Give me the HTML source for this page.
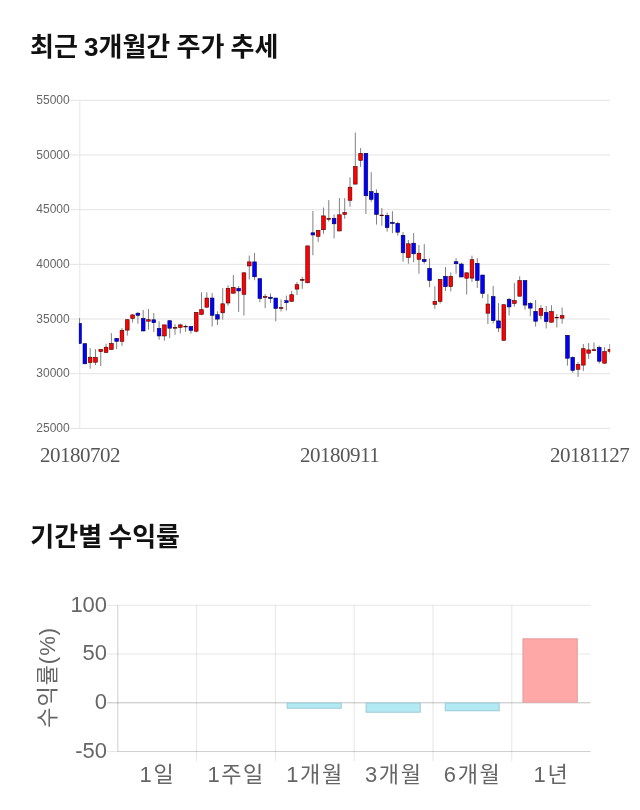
<!DOCTYPE html>
<html lang="ko"><head><meta charset="utf-8"><title>chart</title>
<style>
html,body{margin:0;padding:0;background:#fff;}
body{width:640px;height:810px;position:relative;overflow:hidden;font-family:"Liberation Sans","Noto Sans CJK KR",sans-serif;}
h2{position:absolute;left:30px;margin:0;font-size:26px;line-height:38px;font-weight:bold;color:#111;font-family:"Liberation Sans","Noto Sans CJK KR",sans-serif;white-space:nowrap;word-spacing:-1px;}
#t1{top:28px;}
#t2{top:518px;left:30.3px;}
svg{position:absolute;left:0;top:0;}
.yl{font:12px "Liberation Sans",sans-serif;fill:#666;}
.xl{font:21px "Liberation Serif",serif;fill:#555;letter-spacing:-0.5px;}
.bl{font:22px "Liberation Sans","Noto Sans CJK KR",sans-serif;fill:#666;letter-spacing:1.6px;}
.bn{font:22px "Liberation Sans",sans-serif;fill:#666;}
</style></head><body>
<h2 id="t1">최근 3개월간 주가 추세</h2>
<h2 id="t2">기간별 수익률</h2>
<svg width="640" height="810" viewBox="0 0 640 810">

<line x1="69.3" x2="610" y1="100.30" y2="100.30" stroke="#e3e3e3" stroke-width="1"/>
<line x1="69.3" x2="610" y1="154.98" y2="154.98" stroke="#e3e3e3" stroke-width="1"/>
<line x1="69.3" x2="610" y1="209.66" y2="209.66" stroke="#e3e3e3" stroke-width="1"/>
<line x1="69.3" x2="610" y1="264.34" y2="264.34" stroke="#e3e3e3" stroke-width="1"/>
<line x1="69.3" x2="610" y1="319.02" y2="319.02" stroke="#e3e3e3" stroke-width="1"/>
<line x1="69.3" x2="610" y1="373.70" y2="373.70" stroke="#e3e3e3" stroke-width="1"/>
<line x1="69.3" x2="610" y1="428.38" y2="428.38" stroke="#e3e3e3" stroke-width="1"/>
<line x1="79.8" x2="79.8" y1="100" y2="428.5" stroke="#e6e6e6" stroke-width="1"/>
<text class="yl" x="69.7" y="104.00" text-anchor="end">55000</text>
<text class="yl" x="69.7" y="158.68" text-anchor="end">50000</text>
<text class="yl" x="69.7" y="213.36" text-anchor="end">45000</text>
<text class="yl" x="69.7" y="268.04" text-anchor="end">40000</text>
<text class="yl" x="69.7" y="322.72" text-anchor="end">35000</text>
<text class="yl" x="69.7" y="377.40" text-anchor="end">30000</text>
<text class="yl" x="69.7" y="432.08" text-anchor="end">25000</text>
<defs><clipPath id="cp"><rect x="78.9" y="95" width="531.3" height="340"/></clipPath></defs>
<g clip-path="url(#cp)">
<rect x="79.05" y="318.10" width="1" height="25.65" fill="#808080"/>
<rect x="77.70" y="323.40" width="3.7" height="20.05" fill="#0000ff" stroke="#00004a" stroke-width="0.6"/>
<rect x="84.35" y="343.40" width="1" height="20.70" fill="#808080"/>
<rect x="83.00" y="343.70" width="3.7" height="20.10" fill="#0000ff" stroke="#00004a" stroke-width="0.6"/>
<rect x="89.66" y="348.10" width="1" height="20.65" fill="#808080"/>
<rect x="88.31" y="357.20" width="3.7" height="5.40" fill="#ff0000" stroke="#4a0000" stroke-width="0.6"/>
<rect x="94.96" y="349.10" width="1" height="15.90" fill="#808080"/>
<rect x="93.61" y="357.40" width="3.7" height="4.80" fill="#ff0000" stroke="#4a0000" stroke-width="0.6"/>
<rect x="100.26" y="349.10" width="1" height="16.90" fill="#808080"/>
<rect x="98.91" y="349.40" width="3.7" height="2.20" fill="#ff0000" stroke="#4a0000" stroke-width="0.6"/>
<rect x="105.56" y="343.75" width="1" height="9.00" fill="#808080"/>
<rect x="104.22" y="347.20" width="3.7" height="5.25" fill="#ff0000" stroke="#4a0000" stroke-width="0.6"/>
<rect x="110.87" y="333.10" width="1" height="16.65" fill="#808080"/>
<rect x="109.52" y="343.40" width="3.7" height="6.05" fill="#ff0000" stroke="#4a0000" stroke-width="0.6"/>
<rect x="116.17" y="338.10" width="1" height="11.00" fill="#808080"/>
<rect x="114.82" y="338.40" width="3.7" height="2.90" fill="#0000ff" stroke="#00004a" stroke-width="0.6"/>
<rect x="121.47" y="328.10" width="1" height="17.80" fill="#808080"/>
<rect x="120.12" y="330.30" width="3.7" height="11.00" fill="#ff0000" stroke="#4a0000" stroke-width="0.6"/>
<rect x="126.78" y="319.40" width="1" height="16.20" fill="#808080"/>
<rect x="125.43" y="319.70" width="3.7" height="10.40" fill="#ff0000" stroke="#4a0000" stroke-width="0.6"/>
<rect x="132.08" y="314.00" width="1" height="8.50" fill="#808080"/>
<rect x="130.73" y="314.90" width="3.7" height="3.55" fill="#ff0000" stroke="#4a0000" stroke-width="0.6"/>
<rect x="137.38" y="311.90" width="1" height="11.85" fill="#808080"/>
<rect x="136.03" y="313.20" width="3.7" height="2.10" fill="#0000ff" stroke="#00004a" stroke-width="0.6"/>
<rect x="142.69" y="310.00" width="1" height="21.25" fill="#808080"/>
<rect x="141.34" y="318.40" width="3.7" height="12.55" fill="#0000ff" stroke="#00004a" stroke-width="0.6"/>
<rect x="147.99" y="309.00" width="1" height="20.60" fill="#808080"/>
<rect x="146.64" y="319.70" width="3.7" height="1.50" fill="#ff0000" stroke="#4a0000" stroke-width="0.6"/>
<rect x="153.29" y="313.10" width="1" height="18.80" fill="#808080"/>
<rect x="151.94" y="319.80" width="3.7" height="2.90" fill="#0000ff" stroke="#00004a" stroke-width="0.6"/>
<rect x="158.59" y="321.25" width="1" height="18.50" fill="#808080"/>
<rect x="157.25" y="328.40" width="3.7" height="7.55" fill="#0000ff" stroke="#00004a" stroke-width="0.6"/>
<rect x="163.90" y="324.60" width="1" height="16.00" fill="#808080"/>
<rect x="162.55" y="324.90" width="3.7" height="11.05" fill="#ff0000" stroke="#4a0000" stroke-width="0.6"/>
<rect x="169.20" y="320.40" width="1" height="17.70" fill="#808080"/>
<rect x="167.85" y="320.70" width="3.7" height="7.50" fill="#0000ff" stroke="#00004a" stroke-width="0.6"/>
<rect x="174.50" y="324.10" width="1" height="10.65" fill="#808080"/>
<rect x="173.15" y="327.55" width="3.7" height="0.65" fill="#a00000" stroke="#4a0000" stroke-width="0.6"/>
<rect x="179.81" y="323.50" width="1" height="10.00" fill="#808080"/>
<rect x="178.46" y="324.90" width="3.7" height="2.55" fill="#ff0000" stroke="#4a0000" stroke-width="0.6"/>
<rect x="185.11" y="324.60" width="1" height="7.30" fill="#808080"/>
<rect x="183.76" y="326.30" width="3.7" height="0.65" fill="#a00000" stroke="#4a0000" stroke-width="0.6"/>
<rect x="190.41" y="326.25" width="1" height="7.25" fill="#808080"/>
<rect x="189.06" y="326.55" width="3.7" height="3.75" fill="#0000ff" stroke="#00004a" stroke-width="0.6"/>
<rect x="195.72" y="312.10" width="1" height="20.40" fill="#808080"/>
<rect x="194.37" y="312.40" width="3.7" height="18.80" fill="#ff0000" stroke="#4a0000" stroke-width="0.6"/>
<rect x="201.02" y="292.25" width="1" height="23.00" fill="#808080"/>
<rect x="199.67" y="309.70" width="3.7" height="4.60" fill="#ff0000" stroke="#4a0000" stroke-width="0.6"/>
<rect x="206.32" y="292.25" width="1" height="15.25" fill="#808080"/>
<rect x="204.97" y="298.05" width="3.7" height="9.15" fill="#ff0000" stroke="#4a0000" stroke-width="0.6"/>
<rect x="211.62" y="293.10" width="1" height="33.40" fill="#808080"/>
<rect x="210.28" y="298.05" width="3.7" height="17.25" fill="#0000ff" stroke="#00004a" stroke-width="0.6"/>
<rect x="216.93" y="311.25" width="1" height="13.75" fill="#808080"/>
<rect x="215.58" y="314.70" width="3.7" height="4.40" fill="#0000ff" stroke="#00004a" stroke-width="0.6"/>
<rect x="222.23" y="288.10" width="1" height="31.50" fill="#808080"/>
<rect x="220.88" y="303.80" width="3.7" height="9.00" fill="#ff0000" stroke="#4a0000" stroke-width="0.6"/>
<rect x="227.53" y="285.40" width="1" height="20.20" fill="#808080"/>
<rect x="226.18" y="288.40" width="3.7" height="14.60" fill="#ff0000" stroke="#4a0000" stroke-width="0.6"/>
<rect x="232.84" y="275.00" width="1" height="18.50" fill="#808080"/>
<rect x="231.49" y="287.40" width="3.7" height="5.80" fill="#ff0000" stroke="#4a0000" stroke-width="0.6"/>
<rect x="238.14" y="286.00" width="1" height="25.90" fill="#808080"/>
<rect x="236.79" y="288.40" width="3.7" height="2.55" fill="#0000ff" stroke="#00004a" stroke-width="0.6"/>
<rect x="243.44" y="272.50" width="1" height="43.10" fill="#808080"/>
<rect x="242.09" y="272.80" width="3.7" height="21.50" fill="#ff0000" stroke="#4a0000" stroke-width="0.6"/>
<rect x="248.75" y="255.60" width="1" height="23.80" fill="#808080"/>
<rect x="247.40" y="261.90" width="3.7" height="4.05" fill="#ff0000" stroke="#4a0000" stroke-width="0.6"/>
<rect x="254.05" y="252.90" width="1" height="27.35" fill="#808080"/>
<rect x="252.70" y="261.90" width="3.7" height="14.90" fill="#0000ff" stroke="#00004a" stroke-width="0.6"/>
<rect x="259.35" y="278.40" width="1" height="23.70" fill="#808080"/>
<rect x="258.00" y="278.70" width="3.7" height="19.75" fill="#0000ff" stroke="#00004a" stroke-width="0.6"/>
<rect x="264.65" y="294.00" width="1" height="14.10" fill="#808080"/>
<rect x="263.30" y="296.55" width="3.7" height="0.90" fill="#ff0000" stroke="#4a0000" stroke-width="0.6"/>
<rect x="269.96" y="293.40" width="1" height="9.50" fill="#808080"/>
<rect x="268.61" y="297.20" width="3.7" height="1.25" fill="#0000ff" stroke="#00004a" stroke-width="0.6"/>
<rect x="275.26" y="297.75" width="1" height="23.50" fill="#808080"/>
<rect x="273.91" y="298.05" width="3.7" height="10.40" fill="#0000ff" stroke="#00004a" stroke-width="0.6"/>
<rect x="280.56" y="299.40" width="1" height="12.10" fill="#808080"/>
<rect x="279.21" y="307.55" width="3.7" height="0.90" fill="#ff0000" stroke="#4a0000" stroke-width="0.6"/>
<rect x="285.87" y="295.60" width="1" height="15.00" fill="#808080"/>
<rect x="284.52" y="300.70" width="3.7" height="1.90" fill="#0000ff" stroke="#00004a" stroke-width="0.6"/>
<rect x="291.17" y="290.90" width="1" height="10.70" fill="#808080"/>
<rect x="289.82" y="294.70" width="3.7" height="6.60" fill="#ff0000" stroke="#4a0000" stroke-width="0.6"/>
<rect x="296.47" y="282.10" width="1" height="12.90" fill="#808080"/>
<rect x="295.12" y="284.70" width="3.7" height="4.40" fill="#ff0000" stroke="#4a0000" stroke-width="0.6"/>
<rect x="301.78" y="276.90" width="1" height="11.85" fill="#808080"/>
<rect x="300.43" y="279.40" width="3.7" height="0.90" fill="#a00000" stroke="#4a0000" stroke-width="0.6"/>
<rect x="307.08" y="245.60" width="1" height="37.50" fill="#808080"/>
<rect x="305.73" y="245.90" width="3.7" height="36.90" fill="#ff0000" stroke="#4a0000" stroke-width="0.6"/>
<rect x="312.38" y="211.00" width="1" height="44.25" fill="#808080"/>
<rect x="311.03" y="232.80" width="3.7" height="2.15" fill="#0000ff" stroke="#00004a" stroke-width="0.6"/>
<rect x="317.69" y="230.00" width="1" height="11.90" fill="#808080"/>
<rect x="316.33" y="230.30" width="3.7" height="6.00" fill="#ff0000" stroke="#4a0000" stroke-width="0.6"/>
<rect x="322.99" y="207.50" width="1" height="26.25" fill="#808080"/>
<rect x="321.64" y="215.90" width="3.7" height="13.80" fill="#ff0000" stroke="#4a0000" stroke-width="0.6"/>
<rect x="328.29" y="200.10" width="1" height="21.50" fill="#808080"/>
<rect x="326.94" y="218.50" width="3.7" height="0.80" fill="#a00000" stroke="#4a0000" stroke-width="0.6"/>
<rect x="333.59" y="214.40" width="1" height="24.00" fill="#808080"/>
<rect x="332.24" y="218.30" width="3.7" height="5.50" fill="#0000ff" stroke="#00004a" stroke-width="0.6"/>
<rect x="338.90" y="198.10" width="1" height="33.15" fill="#808080"/>
<rect x="337.55" y="214.80" width="3.7" height="16.15" fill="#ff0000" stroke="#4a0000" stroke-width="0.6"/>
<rect x="344.20" y="198.10" width="1" height="20.65" fill="#808080"/>
<rect x="342.85" y="212.50" width="3.7" height="1.90" fill="#ff0000" stroke="#4a0000" stroke-width="0.6"/>
<rect x="349.50" y="177.25" width="1" height="29.45" fill="#808080"/>
<rect x="348.15" y="187.20" width="3.7" height="13.10" fill="#ff0000" stroke="#4a0000" stroke-width="0.6"/>
<rect x="354.81" y="132.50" width="1" height="51.90" fill="#808080"/>
<rect x="353.46" y="166.55" width="3.7" height="17.55" fill="#ff0000" stroke="#4a0000" stroke-width="0.6"/>
<rect x="360.11" y="148.10" width="1" height="18.80" fill="#808080"/>
<rect x="358.76" y="153.40" width="3.7" height="6.90" fill="#ff0000" stroke="#4a0000" stroke-width="0.6"/>
<rect x="365.41" y="153.10" width="1" height="60.90" fill="#808080"/>
<rect x="364.06" y="153.40" width="3.7" height="42.30" fill="#0000ff" stroke="#00004a" stroke-width="0.6"/>
<rect x="370.72" y="172.10" width="1" height="29.80" fill="#808080"/>
<rect x="369.37" y="191.55" width="3.7" height="7.75" fill="#0000ff" stroke="#00004a" stroke-width="0.6"/>
<rect x="376.02" y="189.40" width="1" height="35.20" fill="#808080"/>
<rect x="374.67" y="193.20" width="3.7" height="21.10" fill="#0000ff" stroke="#00004a" stroke-width="0.6"/>
<rect x="381.32" y="208.10" width="1" height="17.50" fill="#808080"/>
<rect x="379.97" y="215.10" width="3.7" height="0.60" fill="#a00000" stroke="#4a0000" stroke-width="0.6"/>
<rect x="386.62" y="212.50" width="1" height="19.10" fill="#808080"/>
<rect x="385.27" y="215.40" width="3.7" height="12.20" fill="#0000ff" stroke="#00004a" stroke-width="0.6"/>
<rect x="391.93" y="211.25" width="1" height="21.85" fill="#808080"/>
<rect x="390.58" y="222.40" width="3.7" height="1.05" fill="#0000ff" stroke="#00004a" stroke-width="0.6"/>
<rect x="397.23" y="221.90" width="1" height="13.70" fill="#808080"/>
<rect x="395.88" y="223.40" width="3.7" height="8.80" fill="#0000ff" stroke="#00004a" stroke-width="0.6"/>
<rect x="402.53" y="232.10" width="1" height="29.50" fill="#808080"/>
<rect x="401.18" y="235.30" width="3.7" height="17.50" fill="#0000ff" stroke="#00004a" stroke-width="0.6"/>
<rect x="407.84" y="240.00" width="1" height="23.75" fill="#808080"/>
<rect x="406.49" y="243.80" width="3.7" height="13.80" fill="#ff0000" stroke="#4a0000" stroke-width="0.6"/>
<rect x="413.14" y="233.10" width="1" height="29.15" fill="#808080"/>
<rect x="411.79" y="243.20" width="3.7" height="10.60" fill="#0000ff" stroke="#00004a" stroke-width="0.6"/>
<rect x="418.44" y="245.00" width="1" height="28.75" fill="#808080"/>
<rect x="417.09" y="253.20" width="3.7" height="6.10" fill="#ff0000" stroke="#4a0000" stroke-width="0.6"/>
<rect x="423.75" y="244.10" width="1" height="19.40" fill="#808080"/>
<rect x="422.39" y="259.40" width="3.7" height="2.20" fill="#0000ff" stroke="#00004a" stroke-width="0.6"/>
<rect x="429.05" y="258.40" width="1" height="28.85" fill="#808080"/>
<rect x="427.70" y="268.40" width="3.7" height="12.10" fill="#0000ff" stroke="#00004a" stroke-width="0.6"/>
<rect x="434.35" y="286.25" width="1" height="22.50" fill="#808080"/>
<rect x="433.00" y="301.55" width="3.7" height="2.75" fill="#ff0000" stroke="#4a0000" stroke-width="0.6"/>
<rect x="439.65" y="279.10" width="1" height="24.40" fill="#808080"/>
<rect x="438.30" y="279.40" width="3.7" height="21.90" fill="#ff0000" stroke="#4a0000" stroke-width="0.6"/>
<rect x="444.96" y="267.00" width="1" height="24.10" fill="#808080"/>
<rect x="443.61" y="276.30" width="3.7" height="10.30" fill="#0000ff" stroke="#00004a" stroke-width="0.6"/>
<rect x="450.26" y="272.50" width="1" height="19.00" fill="#808080"/>
<rect x="448.91" y="276.30" width="3.7" height="10.30" fill="#ff0000" stroke="#4a0000" stroke-width="0.6"/>
<rect x="455.56" y="258.10" width="1" height="15.65" fill="#808080"/>
<rect x="454.21" y="261.70" width="3.7" height="2.00" fill="#0000ff" stroke="#00004a" stroke-width="0.6"/>
<rect x="460.87" y="262.50" width="1" height="14.75" fill="#808080"/>
<rect x="459.52" y="264.05" width="3.7" height="12.90" fill="#0000ff" stroke="#00004a" stroke-width="0.6"/>
<rect x="466.17" y="272.50" width="1" height="22.10" fill="#808080"/>
<rect x="464.82" y="272.80" width="3.7" height="5.40" fill="#ff0000" stroke="#4a0000" stroke-width="0.6"/>
<rect x="471.47" y="255.60" width="1" height="26.30" fill="#808080"/>
<rect x="470.12" y="259.70" width="3.7" height="18.40" fill="#ff0000" stroke="#4a0000" stroke-width="0.6"/>
<rect x="476.78" y="258.10" width="1" height="29.80" fill="#808080"/>
<rect x="475.43" y="263.40" width="3.7" height="16.90" fill="#0000ff" stroke="#00004a" stroke-width="0.6"/>
<rect x="482.08" y="274.75" width="1" height="23.35" fill="#808080"/>
<rect x="480.73" y="275.05" width="3.7" height="18.40" fill="#0000ff" stroke="#00004a" stroke-width="0.6"/>
<rect x="487.38" y="294.10" width="1" height="29.90" fill="#808080"/>
<rect x="486.03" y="304.05" width="3.7" height="9.15" fill="#ff0000" stroke="#4a0000" stroke-width="0.6"/>
<rect x="492.68" y="285.90" width="1" height="37.60" fill="#808080"/>
<rect x="491.33" y="296.55" width="3.7" height="24.05" fill="#0000ff" stroke="#00004a" stroke-width="0.6"/>
<rect x="497.99" y="303.10" width="1" height="29.00" fill="#808080"/>
<rect x="496.64" y="320.90" width="3.7" height="7.10" fill="#0000ff" stroke="#00004a" stroke-width="0.6"/>
<rect x="503.29" y="304.40" width="1" height="36.20" fill="#808080"/>
<rect x="501.94" y="304.70" width="3.7" height="35.60" fill="#ff0000" stroke="#4a0000" stroke-width="0.6"/>
<rect x="508.59" y="297.90" width="1" height="17.70" fill="#808080"/>
<rect x="507.24" y="299.40" width="3.7" height="7.50" fill="#0000ff" stroke="#00004a" stroke-width="0.6"/>
<rect x="513.90" y="283.10" width="1" height="23.50" fill="#808080"/>
<rect x="512.55" y="300.55" width="3.7" height="2.90" fill="#ff0000" stroke="#4a0000" stroke-width="0.6"/>
<rect x="519.20" y="276.25" width="1" height="20.25" fill="#808080"/>
<rect x="517.85" y="280.55" width="3.7" height="15.65" fill="#ff0000" stroke="#4a0000" stroke-width="0.6"/>
<rect x="524.50" y="280.25" width="1" height="29.35" fill="#808080"/>
<rect x="523.15" y="280.55" width="3.7" height="24.55" fill="#0000ff" stroke="#00004a" stroke-width="0.6"/>
<rect x="529.80" y="302.10" width="1" height="14.15" fill="#808080"/>
<rect x="528.45" y="303.40" width="3.7" height="4.70" fill="#0000ff" stroke="#00004a" stroke-width="0.6"/>
<rect x="535.11" y="300.00" width="1" height="26.60" fill="#808080"/>
<rect x="533.76" y="311.30" width="3.7" height="9.90" fill="#0000ff" stroke="#00004a" stroke-width="0.6"/>
<rect x="540.41" y="305.25" width="1" height="13.85" fill="#808080"/>
<rect x="539.06" y="308.40" width="3.7" height="6.90" fill="#ff0000" stroke="#4a0000" stroke-width="0.6"/>
<rect x="545.71" y="306.00" width="1" height="22.50" fill="#808080"/>
<rect x="544.36" y="312.40" width="3.7" height="9.20" fill="#0000ff" stroke="#00004a" stroke-width="0.6"/>
<rect x="551.02" y="305.25" width="1" height="17.25" fill="#808080"/>
<rect x="549.67" y="311.55" width="3.7" height="10.65" fill="#ff0000" stroke="#4a0000" stroke-width="0.6"/>
<rect x="556.32" y="314.10" width="1" height="13.40" fill="#808080"/>
<rect x="554.97" y="317.30" width="3.7" height="0.60" fill="#a00000" stroke="#4a0000" stroke-width="0.6"/>
<rect x="561.62" y="307.50" width="1" height="16.25" fill="#808080"/>
<rect x="560.27" y="315.55" width="3.7" height="2.65" fill="#ff0000" stroke="#4a0000" stroke-width="0.6"/>
<rect x="566.93" y="335.00" width="1" height="30.60" fill="#808080"/>
<rect x="565.58" y="335.30" width="3.7" height="22.90" fill="#0000ff" stroke="#00004a" stroke-width="0.6"/>
<rect x="572.23" y="356.25" width="1" height="16.50" fill="#808080"/>
<rect x="570.88" y="357.40" width="3.7" height="12.90" fill="#0000ff" stroke="#00004a" stroke-width="0.6"/>
<rect x="577.53" y="362.10" width="1" height="14.80" fill="#808080"/>
<rect x="576.18" y="364.40" width="3.7" height="4.90" fill="#ff0000" stroke="#4a0000" stroke-width="0.6"/>
<rect x="582.83" y="344.00" width="1" height="26.90" fill="#808080"/>
<rect x="581.48" y="348.70" width="3.7" height="16.40" fill="#ff0000" stroke="#4a0000" stroke-width="0.6"/>
<rect x="588.14" y="343.10" width="1" height="15.65" fill="#808080"/>
<rect x="586.79" y="349.90" width="3.7" height="3.30" fill="#ff0000" stroke="#4a0000" stroke-width="0.6"/>
<rect x="593.44" y="342.50" width="1" height="8.40" fill="#808080"/>
<rect x="592.09" y="349.70" width="3.7" height="0.90" fill="#ff0000" stroke="#4a0000" stroke-width="0.6"/>
<rect x="598.74" y="345.60" width="1" height="17.90" fill="#808080"/>
<rect x="597.39" y="347.40" width="3.7" height="13.80" fill="#0000ff" stroke="#00004a" stroke-width="0.6"/>
<rect x="604.05" y="347.25" width="1" height="16.25" fill="#808080"/>
<rect x="602.70" y="351.55" width="3.7" height="11.65" fill="#ff0000" stroke="#4a0000" stroke-width="0.6"/>
<rect x="609.35" y="344.10" width="1" height="9.65" fill="#808080"/>
<rect x="608.00" y="349.40" width="3.7" height="1.90" fill="#ff0000" stroke="#4a0000" stroke-width="0.6"/>
</g>
<text class="xl" x="40" y="462">20180702</text>
<text class="xl" x="300" y="462">20180911</text>
<text class="xl" x="550" y="462">20181127</text>
<line x1="107" x2="590.60" y1="605.30" y2="605.30" stroke="#000" stroke-opacity="0.1" stroke-width="1"/>
<line x1="107" x2="590.60" y1="654.05" y2="654.05" stroke="#000" stroke-opacity="0.1" stroke-width="1"/>
<line x1="107" x2="590.60" y1="702.80" y2="702.80" stroke="#000" stroke-opacity="0.25" stroke-width="1"/>
<line x1="107" x2="590.60" y1="751.55" y2="751.55" stroke="#000" stroke-opacity="0.1" stroke-width="1"/>
<line x1="117.80" x2="590.60" y1="751.55" y2="751.55" stroke="#000" stroke-opacity="0.1" stroke-width="1"/>
<line x1="117.80" x2="117.80" y1="605.30" y2="751.55" stroke="#000" stroke-opacity="0.1" stroke-width="1"/>
<line x1="117.80" x2="117.80" y1="605.30" y2="751.55" stroke="#000" stroke-opacity="0.1" stroke-width="1"/>
<line x1="196.60" x2="196.60" y1="605.30" y2="761.30" stroke="#000" stroke-opacity="0.1" stroke-width="1"/>
<line x1="275.40" x2="275.40" y1="605.30" y2="761.30" stroke="#000" stroke-opacity="0.1" stroke-width="1"/>
<line x1="354.20" x2="354.20" y1="605.30" y2="761.30" stroke="#000" stroke-opacity="0.1" stroke-width="1"/>
<line x1="433.00" x2="433.00" y1="605.30" y2="761.30" stroke="#000" stroke-opacity="0.1" stroke-width="1"/>
<line x1="511.80" x2="511.80" y1="605.30" y2="761.30" stroke="#000" stroke-opacity="0.1" stroke-width="1"/>
<text class="bn" x="107.1" y="611.7" text-anchor="end">100</text>
<text class="bn" x="107.1" y="660.4" text-anchor="end">50</text>
<text class="bn" x="107.1" y="709.2" text-anchor="end">0</text>
<text class="bn" x="107.1" y="757.9" text-anchor="end">-50</text>
<text class="bl" x="157.4" y="782" text-anchor="middle">1일</text>
<text class="bl" x="236.2" y="782" text-anchor="middle">1주일</text>
<text class="bl" x="315.0" y="782" text-anchor="middle">1개월</text>
<text class="bl" x="393.8" y="782" text-anchor="middle">3개월</text>
<text class="bl" x="472.6" y="782" text-anchor="middle">6개월</text>
<text class="bl" x="551.4" y="782" text-anchor="middle">1년</text>
<text class="bl" style="letter-spacing:0.95px" transform="translate(54.9,677.4) rotate(-90)" text-anchor="middle">수익률(%)</text>
<rect x="286.75" y="702.60" width="55.00" height="6.15" fill="#b2e9f3"/>
<rect x="287.25" y="703.10" width="54.00" height="5.15" fill="none" stroke="#9cc3cc" stroke-width="1" stroke-opacity="0.75"/>
<rect x="365.70" y="702.60" width="55.00" height="10.10" fill="#b2e9f3"/>
<rect x="366.20" y="703.10" width="54.00" height="9.10" fill="none" stroke="#9cc3cc" stroke-width="1" stroke-opacity="0.75"/>
<rect x="444.80" y="702.60" width="54.80" height="8.60" fill="#b2e9f3"/>
<rect x="445.30" y="703.10" width="53.80" height="7.60" fill="none" stroke="#9cc3cc" stroke-width="1" stroke-opacity="0.75"/>
<rect x="522.60" y="638.40" width="55.10" height="64.20" fill="#ffa8a8"/>
<rect x="523.10" y="638.90" width="54.10" height="63.20" fill="none" stroke="#dc9a9a" stroke-width="1" stroke-opacity="0.75"/>
</svg></body></html>
